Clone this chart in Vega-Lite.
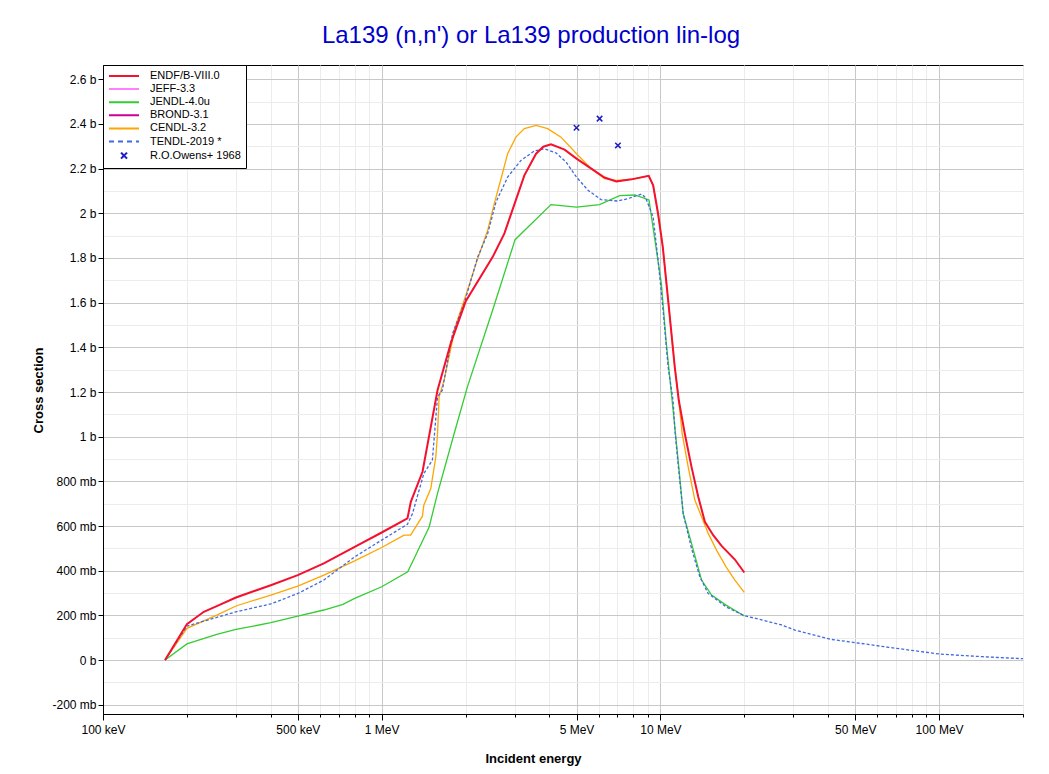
{
  "$schema": "https://vega.github.io/schema/vega-lite/v6.json",
  "width": 920,
  "height": 649,
  "autosize": {"type": "none"},
  "padding": {"left": 103, "top": 65, "right": 26, "bottom": 60},
  "background": "white",
  "title": {"text": "La139 (n,n') or La139 production lin-log", "fontSize": 24, "fontWeight": "normal", "color": "#0000cc", "font": "Liberation Sans", "anchor": "middle", "dx": -32, "offset": 17},
  "config": {
    "view": {"stroke": "black", "strokeWidth": 1},
    "font": "Liberation Sans",
    "axis": {"labelFont": "Liberation Sans", "labelFontSize": 12, "labelColor": "black", "titleFont": "Liberation Sans", "titleFontSize": 13, "titleFontWeight": "bold", "titleColor": "black", "domainColor": "black", "tickColor": "black", "gridWidth": 1}
  },
  "data": {"values": [
    {"series":"ENDF/B-VIII.0","energy":0.167,"xs":0},
    {"series":"ENDF/B-VIII.0","energy":0.2,"xs":161},
    {"series":"ENDF/B-VIII.0","energy":0.23,"xs":216},
    {"series":"ENDF/B-VIII.0","energy":0.256,"xs":241},
    {"series":"ENDF/B-VIII.0","energy":0.3,"xs":280},
    {"series":"ENDF/B-VIII.0","energy":0.4,"xs":335},
    {"series":"ENDF/B-VIII.0","energy":0.5,"xs":380},
    {"series":"ENDF/B-VIII.0","energy":0.62,"xs":433},
    {"series":"ENDF/B-VIII.0","energy":0.8,"xs":507},
    {"series":"ENDF/B-VIII.0","energy":1.0,"xs":571},
    {"series":"ENDF/B-VIII.0","energy":1.237,"xs":634},
    {"series":"ENDF/B-VIII.0","energy":1.272,"xs":708},
    {"series":"ENDF/B-VIII.0","energy":1.401,"xs":843},
    {"series":"ENDF/B-VIII.0","energy":1.586,"xs":1208},
    {"series":"ENDF/B-VIII.0","energy":1.771,"xs":1420},
    {"series":"ENDF/B-VIII.0","energy":2.0,"xs":1605},
    {"series":"ENDF/B-VIII.0","energy":2.5,"xs":1804},
    {"series":"ENDF/B-VIII.0","energy":2.754,"xs":1909},
    {"series":"ENDF/B-VIII.0","energy":3.25,"xs":2170},
    {"series":"ENDF/B-VIII.0","energy":3.58,"xs":2267},
    {"series":"ENDF/B-VIII.0","energy":3.8,"xs":2298},
    {"series":"ENDF/B-VIII.0","energy":4.05,"xs":2309},
    {"series":"ENDF/B-VIII.0","energy":4.53,"xs":2285},
    {"series":"ENDF/B-VIII.0","energy":5.0,"xs":2245},
    {"series":"ENDF/B-VIII.0","energy":5.65,"xs":2200},
    {"series":"ENDF/B-VIII.0","energy":6.3,"xs":2160},
    {"series":"ENDF/B-VIII.0","energy":6.95,"xs":2143},
    {"series":"ENDF/B-VIII.0","energy":7.87,"xs":2152},
    {"series":"ENDF/B-VIII.0","energy":9.08,"xs":2168},
    {"series":"ENDF/B-VIII.0","energy":9.42,"xs":2125},
    {"series":"ENDF/B-VIII.0","energy":9.81,"xs":1998},
    {"series":"ENDF/B-VIII.0","energy":10.2,"xs":1849},
    {"series":"ENDF/B-VIII.0","energy":10.66,"xs":1611},
    {"series":"ENDF/B-VIII.0","energy":11.26,"xs":1312},
    {"series":"ENDF/B-VIII.0","energy":11.64,"xs":1163},
    {"series":"ENDF/B-VIII.0","energy":12.23,"xs":1014},
    {"series":"ENDF/B-VIII.0","energy":12.93,"xs":865},
    {"series":"ENDF/B-VIII.0","energy":13.67,"xs":731},
    {"series":"ENDF/B-VIII.0","energy":14.44,"xs":619},
    {"series":"ENDF/B-VIII.0","energy":15.47,"xs":559},
    {"series":"ENDF/B-VIII.0","energy":16.58,"xs":511},
    {"series":"ENDF/B-VIII.0","energy":18.5,"xs":450},
    {"series":"ENDF/B-VIII.0","energy":20,"xs":392},
    {"series":"CENDL-3.2","energy":0.167,"xs":0},
    {"series":"CENDL-3.2","energy":0.2,"xs":142},
    {"series":"CENDL-3.2","energy":0.256,"xs":201},
    {"series":"CENDL-3.2","energy":0.3,"xs":242},
    {"series":"CENDL-3.2","energy":0.4,"xs":291},
    {"series":"CENDL-3.2","energy":0.5,"xs":331},
    {"series":"CENDL-3.2","energy":0.62,"xs":380},
    {"series":"CENDL-3.2","energy":0.8,"xs":444},
    {"series":"CENDL-3.2","energy":1.0,"xs":504},
    {"series":"CENDL-3.2","energy":1.203,"xs":559},
    {"series":"CENDL-3.2","energy":1.27,"xs":559},
    {"series":"CENDL-3.2","energy":1.4,"xs":644},
    {"series":"CENDL-3.2","energy":1.416,"xs":693},
    {"series":"CENDL-3.2","energy":1.5,"xs":768},
    {"series":"CENDL-3.2","energy":1.564,"xs":910},
    {"series":"CENDL-3.2","energy":1.586,"xs":1014},
    {"series":"CENDL-3.2","energy":1.607,"xs":1178},
    {"series":"CENDL-3.2","energy":1.675,"xs":1253},
    {"series":"CENDL-3.2","energy":1.796,"xs":1432},
    {"series":"CENDL-3.2","energy":1.81,"xs":1469},
    {"series":"CENDL-3.2","energy":2.0,"xs":1630},
    {"series":"CENDL-3.2","energy":2.21,"xs":1797},
    {"series":"CENDL-3.2","energy":2.4,"xs":1924},
    {"series":"CENDL-3.2","energy":2.535,"xs":2043},
    {"series":"CENDL-3.2","energy":2.72,"xs":2185},
    {"series":"CENDL-3.2","energy":2.83,"xs":2267},
    {"series":"CENDL-3.2","energy":3.03,"xs":2341},
    {"series":"CENDL-3.2","energy":3.25,"xs":2379},
    {"series":"CENDL-3.2","energy":3.58,"xs":2394},
    {"series":"CENDL-3.2","energy":3.94,"xs":2379},
    {"series":"CENDL-3.2","energy":4.4,"xs":2341},
    {"series":"CENDL-3.2","energy":5.0,"xs":2267},
    {"series":"CENDL-3.2","energy":5.65,"xs":2200},
    {"series":"CENDL-3.2","energy":6.3,"xs":2155},
    {"series":"CENDL-3.2","energy":6.95,"xs":2147},
    {"series":"CENDL-3.2","energy":7.87,"xs":2152},
    {"series":"CENDL-3.2","energy":9.08,"xs":2168},
    {"series":"CENDL-3.2","energy":9.42,"xs":2125},
    {"series":"CENDL-3.2","energy":9.81,"xs":1998},
    {"series":"CENDL-3.2","energy":10.2,"xs":1849},
    {"series":"CENDL-3.2","energy":10.66,"xs":1611},
    {"series":"CENDL-3.2","energy":11.26,"xs":1312},
    {"series":"CENDL-3.2","energy":11.64,"xs":1163},
    {"series":"CENDL-3.2","energy":11.97,"xs":1014},
    {"series":"CENDL-3.2","energy":12.58,"xs":865},
    {"series":"CENDL-3.2","energy":13.29,"xs":716},
    {"series":"CENDL-3.2","energy":14.05,"xs":641},
    {"series":"CENDL-3.2","energy":14.84,"xs":567},
    {"series":"CENDL-3.2","energy":15.9,"xs":492},
    {"series":"CENDL-3.2","energy":17.2,"xs":417},
    {"series":"CENDL-3.2","energy":18.5,"xs":358},
    {"series":"CENDL-3.2","energy":20,"xs":303},
    {"series":"JENDL-4.0u","energy":0.167,"xs":0},
    {"series":"JENDL-4.0u","energy":0.2,"xs":72},
    {"series":"JENDL-4.0u","energy":0.256,"xs":115},
    {"series":"JENDL-4.0u","energy":0.3,"xs":137},
    {"series":"JENDL-4.0u","energy":0.4,"xs":167},
    {"series":"JENDL-4.0u","energy":0.5,"xs":197},
    {"series":"JENDL-4.0u","energy":0.62,"xs":224},
    {"series":"JENDL-4.0u","energy":0.726,"xs":249},
    {"series":"JENDL-4.0u","energy":0.8,"xs":276},
    {"series":"JENDL-4.0u","energy":1.0,"xs":328},
    {"series":"JENDL-4.0u","energy":1.24,"xs":395},
    {"series":"JENDL-4.0u","energy":1.307,"xs":455},
    {"series":"JENDL-4.0u","energy":1.48,"xs":596},
    {"series":"JENDL-4.0u","energy":1.586,"xs":746},
    {"series":"JENDL-4.0u","energy":1.82,"xs":1014},
    {"series":"JENDL-4.0u","energy":2.03,"xs":1223},
    {"series":"JENDL-4.0u","energy":2.5,"xs":1566},
    {"series":"JENDL-4.0u","energy":3.01,"xs":1882},
    {"series":"JENDL-4.0u","energy":4.05,"xs":2039},
    {"series":"JENDL-4.0u","energy":5.0,"xs":2028},
    {"series":"JENDL-4.0u","energy":6.05,"xs":2039},
    {"series":"JENDL-4.0u","energy":7.14,"xs":2079},
    {"series":"JENDL-4.0u","energy":8.09,"xs":2082},
    {"series":"JENDL-4.0u","energy":9.1,"xs":2060},
    {"series":"JENDL-4.0u","energy":10.08,"xs":1685},
    {"series":"JENDL-4.0u","energy":10.5,"xs":1417},
    {"series":"JENDL-4.0u","energy":11.2,"xs":1074},
    {"series":"JENDL-4.0u","energy":11.64,"xs":865},
    {"series":"JENDL-4.0u","energy":12.07,"xs":656},
    {"series":"JENDL-4.0u","energy":12.93,"xs":522},
    {"series":"JENDL-4.0u","energy":14.05,"xs":358},
    {"series":"JENDL-4.0u","energy":15.26,"xs":291},
    {"series":"JENDL-4.0u","energy":17.2,"xs":246},
    {"series":"JENDL-4.0u","energy":20,"xs":197},
    {"series":"TENDL-2019 *","energy":0.167,"xs":0},
    {"series":"TENDL-2019 *","energy":0.2,"xs":152},
    {"series":"TENDL-2019 *","energy":0.3,"xs":216},
    {"series":"TENDL-2019 *","energy":0.4,"xs":251},
    {"series":"TENDL-2019 *","energy":0.5,"xs":298},
    {"series":"TENDL-2019 *","energy":0.62,"xs":358},
    {"series":"TENDL-2019 *","energy":0.8,"xs":462},
    {"series":"TENDL-2019 *","energy":1.0,"xs":537},
    {"series":"TENDL-2019 *","energy":1.237,"xs":608},
    {"series":"TENDL-2019 *","energy":1.29,"xs":656},
    {"series":"TENDL-2019 *","energy":1.416,"xs":835},
    {"series":"TENDL-2019 *","energy":1.52,"xs":895},
    {"series":"TENDL-2019 *","energy":1.586,"xs":1178},
    {"series":"TENDL-2019 *","energy":1.65,"xs":1208},
    {"series":"TENDL-2019 *","energy":1.796,"xs":1462},
    {"series":"TENDL-2019 *","energy":1.98,"xs":1600},
    {"series":"TENDL-2019 *","energy":2.21,"xs":1804},
    {"series":"TENDL-2019 *","energy":2.4,"xs":1909},
    {"series":"TENDL-2019 *","energy":2.57,"xs":2050},
    {"series":"TENDL-2019 *","energy":2.83,"xs":2162},
    {"series":"TENDL-2019 *","energy":3.16,"xs":2237},
    {"series":"TENDL-2019 *","energy":3.53,"xs":2279},
    {"series":"TENDL-2019 *","energy":3.83,"xs":2289},
    {"series":"TENDL-2019 *","energy":4.23,"xs":2270},
    {"series":"TENDL-2019 *","energy":4.59,"xs":2229},
    {"series":"TENDL-2019 *","energy":5.0,"xs":2162},
    {"series":"TENDL-2019 *","energy":5.5,"xs":2103},
    {"series":"TENDL-2019 *","energy":6.13,"xs":2061},
    {"series":"TENDL-2019 *","energy":7.04,"xs":2055},
    {"series":"TENDL-2019 *","energy":7.65,"xs":2066},
    {"series":"TENDL-2019 *","energy":8.55,"xs":2086},
    {"series":"TENDL-2019 *","energy":8.85,"xs":2070},
    {"series":"TENDL-2019 *","energy":9.42,"xs":1983},
    {"series":"TENDL-2019 *","energy":9.81,"xs":1790},
    {"series":"TENDL-2019 *","energy":10.2,"xs":1581},
    {"series":"TENDL-2019 *","energy":10.66,"xs":1312},
    {"series":"TENDL-2019 *","energy":11.1,"xs":1163},
    {"series":"TENDL-2019 *","energy":11.3,"xs":1014},
    {"series":"TENDL-2019 *","energy":11.6,"xs":865},
    {"series":"TENDL-2019 *","energy":12.07,"xs":656},
    {"series":"TENDL-2019 *","energy":12.93,"xs":500},
    {"series":"TENDL-2019 *","energy":13.85,"xs":373},
    {"series":"TENDL-2019 *","energy":14.84,"xs":298},
    {"series":"TENDL-2019 *","energy":17.2,"xs":238},
    {"series":"TENDL-2019 *","energy":20,"xs":199},
    {"series":"TENDL-2019 *","energy":27.2,"xs":157},
    {"series":"TENDL-2019 *","energy":30.4,"xs":134},
    {"series":"TENDL-2019 *","energy":41.2,"xs":92},
    {"series":"TENDL-2019 *","energy":50,"xs":78},
    {"series":"TENDL-2019 *","energy":65.9,"xs":57},
    {"series":"TENDL-2019 *","energy":100,"xs":27},
    {"series":"TENDL-2019 *","energy":142.8,"xs":15},
    {"series":"TENDL-2019 *","energy":200,"xs":6},
    {"series":"R.O.Owens+ 1968","energy":5.0,"xs":2383},
    {"series":"R.O.Owens+ 1968","energy":6.05,"xs":2424},
    {"series":"R.O.Owens+ 1968","energy":7.04,"xs":2304}
  ]},
  "encoding": {
    "x": {"field": "energy", "type": "quantitative",
      "scale": {"type": "log", "domain": [0.1, 200], "nice": false},
      "axis": {
        "title": "Incident energy",
        "values": [0.1,0.2,0.3,0.4,0.5,0.6,0.7,0.8,0.9,1,2,3,4,5,6,7,8,9,10,20,30,40,50,60,70,80,90,100,200],
        "labelExpr": "indexof([0.1,0.5,1,5,10,50,100], datum.value) >= 0 ? (datum.value < 1 ? round(datum.value*1000) + ' keV' : datum.value + ' MeV') : ''",
        "labelFlush": false, "labelOverlap": false, "labelPadding": 4,
        "gridColor": {"condition": {"test": "indexof([0.1,0.5,1,5,10,50,100], datum.value) >= 0", "value": "#c8c8c8"}, "value": "#ececec"},
        "tickSize": {"condition": {"test": "indexof([0.1,0.5,1,5,10,50,100], datum.value) >= 0", "value": 6}, "value": 3},
        "titleX": 430, "titleY": 44, "titleBaseline": "middle", "titleAlign": "center", "titleAnchor": null
      }
    },
    "y": {"field": "xs", "type": "quantitative",
      "scale": {"domain": [-241.6, 2664], "nice": false, "zero": false},
      "axis": {
        "title": "Cross section",
        "values": [-200,-100,0,100,200,300,400,500,600,700,800,900,1000,1100,1200,1300,1400,1500,1600,1700,1800,1900,2000,2100,2200,2300,2400,2500,2600],
        "labelExpr": "datum.value % 200 != 0 ? '' : (datum.value == 0 ? '0 b' : (abs(datum.value) >= 1000 ? (datum.value/1000) + ' b' : datum.value + ' mb'))",
        "labelOverlap": false, "labelPadding": 2,
        "gridColor": {"condition": {"test": "datum.value % 200 == 0", "value": "#c8c8c8"}, "value": "#ececec"},
        "tickSize": {"condition": {"test": "datum.value % 200 == 0", "value": 5}, "value": 0},
        "titleX": -65, "titleY": 325, "titleBaseline": "middle", "titleAlign": "center", "titleAnchor": null
      }
    },
    "color": {"field": "series", "type": "nominal",
      "scale": {
        "domain": ["ENDF/B-VIII.0","JEFF-3.3","JENDL-4.0u","BROND-3.1","CENDL-3.2","TENDL-2019 *","R.O.Owens+ 1968"],
        "range": ["#f5102e","#ff80ff","#33cc33","#cc0099","#ffa500","#4169e1","#2020c0"]
      },
      "legend": {
        "title": null, "orient": "top-left", "offset": 0, "padding": 5,
        "strokeColor": "black", "fillColor": "white",
        "labelFont": "Liberation Sans", "labelFontSize": 11, "labelColor": "black",
        "symbolSize": 100, "symbolStrokeWidth": 2, "labelOffset": 30, "rowPadding": 2.1,
        "symbolType": "M-1,0L5,0",
        "encode": {"symbols": {"update": {
          "shape": {"signal": "datum.value === 'R.O.Owens+ 1968' ? 'M1.4,-0.6L2.6,0.6M1.4,0.6L2.6,-0.6' : 'M-1,0L5,0'"},
          "strokeDash": {"signal": "datum.value === 'TENDL-2019 *' ? [5,4] : [1,0]"},
          "strokeWidth": {"value": 2},
          "opacity": {"value": 1}
        }}}
      }
    }
  },
  "layer": [
    {"transform": [{"filter": "datum.series === 'JENDL-4.0u' || datum.series === 'CENDL-3.2'"}],
     "mark": {"type": "line", "strokeWidth": 1.3}},
    {"transform": [{"filter": "datum.series === 'TENDL-2019 *'"}],
     "mark": {"type": "line", "strokeWidth": 1.3, "strokeDash": [3, 2]}},
    {"transform": [{"filter": "datum.series === 'ENDF/B-VIII.0'"}],
     "mark": {"type": "line", "strokeWidth": 2}},
    {"transform": [{"filter": "datum.series === 'R.O.Owens+ 1968'"}],
     "mark": {"type": "point", "shape": "M-1,-1L1,1M-1,1L1,-1", "size": 30, "strokeWidth": 1.5, "filled": false, "opacity": 1}}
  ]
}
